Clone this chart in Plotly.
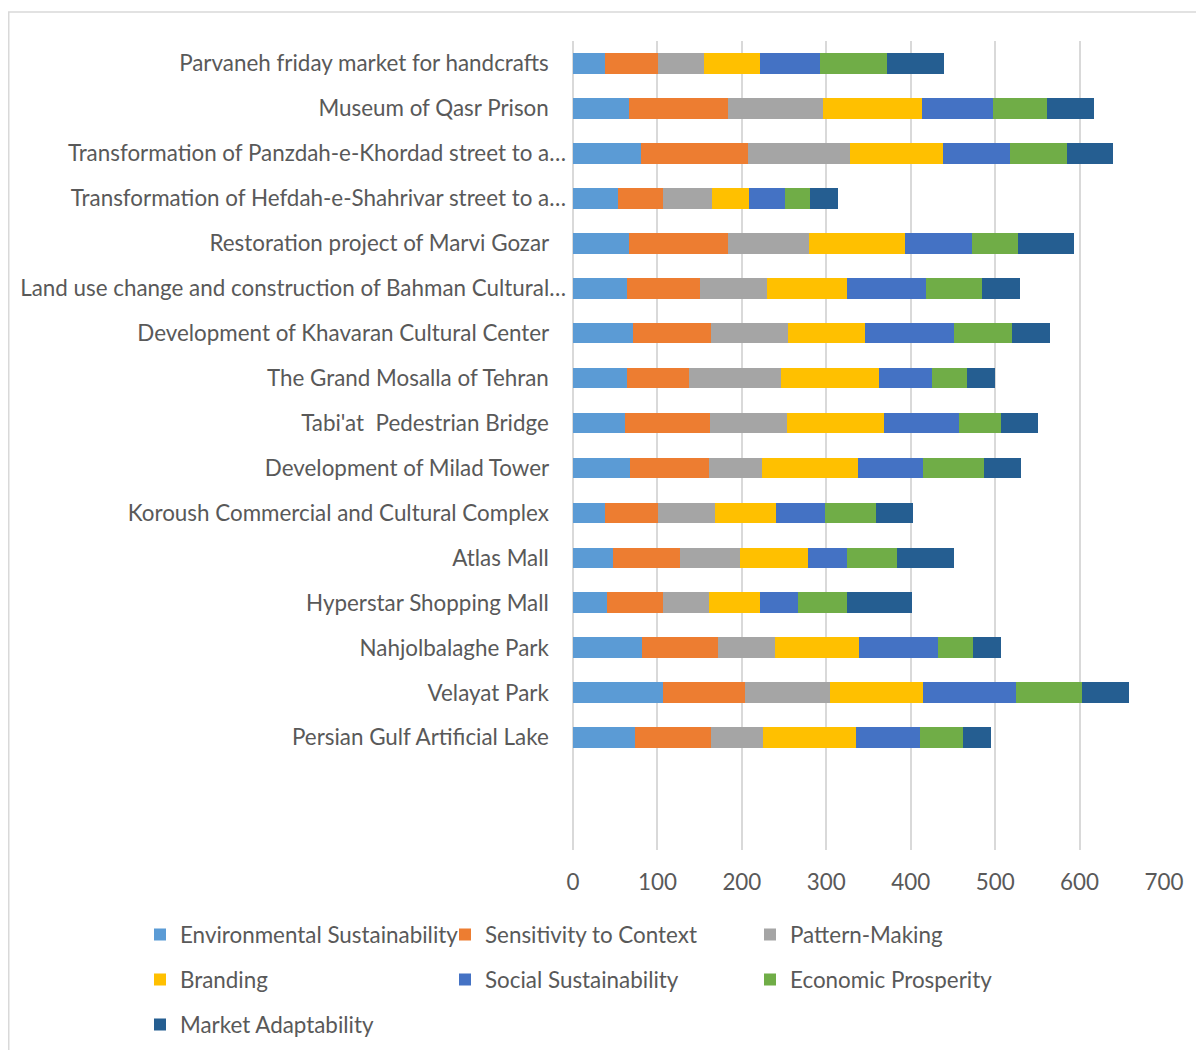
import plotly.graph_objects as go

categories = [
    "Persian Gulf Artificial Lake",
    "Velayat Park",
    "Nahjolbalaghe Park",
    "Hyperstar Shopping Mall",
    "Atlas Mall",
    "Koroush Commercial and Cultural Complex",
    "Development of Milad Tower",
    "Tabi'at\u00a0 Pedestrian Bridge",
    "The Grand Mosalla of Tehran",
    "Development of Khavaran Cultural Center",
    "Land use change and construction of Bahman Cultural…",
    "Restoration project of Marvi Gozar",
    "Transformation of Hefdah-e-Shahrivar street to a…",
    "Transformation of Panzdah-e-Khordad street to a…",
    "Museum of Qasr Prison",
    "Parvaneh friday market for handcrafts",
]

environmental_sustainability = [73, 107, 82, 40, 47, 38, 68, 62, 64, 71, 64, 66, 53, 80, 66, 38]
sensitivity_to_context = [90, 97, 90, 67, 80, 63, 93, 100, 73, 93, 87, 118, 54, 127, 118, 63]
pattern_making = [62, 100, 67, 54, 71, 67, 63, 92, 109, 91, 79, 96, 58, 121, 112, 54]
branding = [110, 110, 100, 60, 80, 73, 113, 114, 117, 91, 94, 113, 44, 110, 117, 67]
social_sustainability = [76, 111, 93, 46, 47, 58, 77, 89, 62, 105, 94, 80, 42, 80, 85, 71]
economic_prosperity = [51, 78, 42, 57, 59, 60, 73, 50, 42, 69, 67, 54, 30, 67, 64, 79]
market_adaptability = [33, 56, 33, 77, 67, 44, 44, 44, 33, 45, 44, 66, 33, 55, 55, 67]

series = [
    ("Environmental Sustainability", environmental_sustainability, "#5B9BD5", "legend"),
    ("Sensitivity to Context", sensitivity_to_context, "#ED7D31", "legend"),
    ("Pattern-Making", pattern_making, "#A5A5A5", "legend"),
    ("Branding", branding, "#FFC000", "legend2"),
    ("Social Sustainability", social_sustainability, "#4472C4", "legend2"),
    ("Economic Prosperity", economic_prosperity, "#70AD47", "legend2"),
    ("Market Adaptability", market_adaptability, "#255E91", "legend3"),
]

x_ticks = [0, 100, 200, 300, 400, 500, 600, 700]

FONT = "Lato"
TXT = "#595959"
FS = 22.4

# Excel right-aligns truncated labels closer to the axis; pad the others
tick_text = [c if c.endswith("…") else c + "\u00a0" * 3 for c in categories]

fig = go.Figure()
for name, vals, color, lg in series:
    fig.add_trace(go.Bar(
        name=name, y=categories, x=vals, orientation="h",
        marker=dict(color=color, line=dict(width=0)),
        width=0.46, legend=lg,
    ))

# page has an 8px body margin; work in figure coordinates (absolute - 8)
OFF = 8
W = 1204 - OFF
H = 1120  # taller than the window so the bottom legend row never pushes margins
L = 573 - OFF
T = 40.5 - OFF
R = W - (1164 - OFF)
B = H - (850 - OFF)
pw = W - L - R
ph = H - T - B


def px_x(p):
    return (p - OFF - L) / pw


def px_y(p):
    return (H - B - (p - OFF)) / ph


def legend_row(y_abs):
    return dict(
        orientation="h",
        x=px_x(140), xanchor="left",
        y=px_y(y_abs), yanchor="middle",
        entrywidth=260, entrywidthmode="pixels",
        font=dict(family=FONT, size=FS, color=TXT),
        traceorder="normal", bgcolor="rgba(0,0,0,0)",
    )


fig.update_layout(
    barmode="stack",
    width=W, height=H,
    margin=dict(l=L, r=R, t=T, b=B, pad=0),
    paper_bgcolor="white", plot_bgcolor="white",
    font=dict(family=FONT, size=FS, color=TXT),
    xaxis=dict(
        range=[0, 700], tickvals=x_ticks, showgrid=True, automargin=False,
        gridcolor="#D9D9D9", gridwidth=1.5, zeroline=True,
        zerolinecolor="#D9D9D9", zerolinewidth=1.5,
        showline=False, ticks="", ticklabelstandoff=17,
        tickfont=dict(family=FONT, size=FS, color=TXT),
    ),
    yaxis=dict(
        type="category", categoryorder="array", categoryarray=categories,
        tickvals=categories, ticktext=tick_text, automargin=False,
        range=[-2.5, 15.5], showgrid=False, zeroline=False, showline=False,
        ticks="", ticklabelstandoff=6,
        tickfont=dict(family=FONT, size=FS, color=TXT),
    ),
    legend=legend_row(935),
    legend2=legend_row(980),
    legend3=legend_row(1025),
    shapes=[dict(
        type="rect", xref="paper", yref="paper",
        x0=px_x(8.75), x1=px_x(1230), y0=px_y(1100), y1=px_y(11.5),
        line=dict(color="#D9D9D9", width=1.5), fillcolor="rgba(0,0,0,0)",
        layer="below",
    )],
)

fig.write_html(
    "out.html",
    post_script="document.documentElement.style.overflow='hidden';"
                "document.body.style.overflow='hidden';",
)
